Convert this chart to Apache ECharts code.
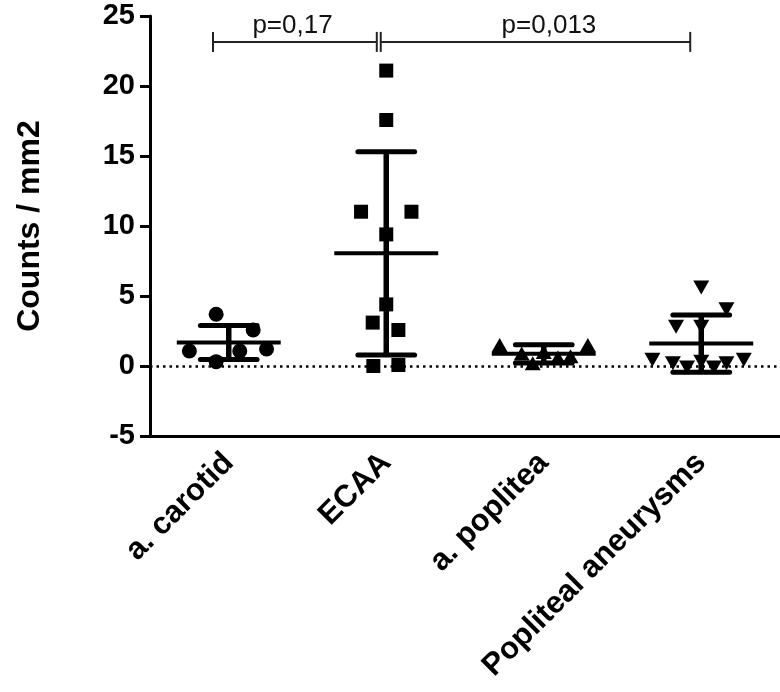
<!DOCTYPE html>
<html>
<head>
<meta charset="utf-8">
<script src="https://cdn.jsdelivr.net/npm/echarts@6/dist/echarts.min.js"></script>
<style>
  html, body { margin: 0; padding: 0; background: #fff; }
  #chart { width: 780px; height: 692px; }
</style>
</head>
<body>
<div id="chart"></div>
<script>
const categories = ['a. carotid', 'ECAA', 'a. poplitea', 'Popliteal aneurysms'];

// individual points: jitter is the horizontal offset from the group centre (category units)
const carotidJitter = [-0.08, 0.155, -0.25, -0.08, 0.07, 0.24];
const carotidY = [3.7, 2.57, 1.07, 0.31, 1.07, 1.21];
const ecaaJitter = [0, 0, -0.16, 0.16, 0, 0, -0.086, 0.077, -0.082, 0.077];
const ecaaY = [21.1, 17.57, 11.02, 11.02, 9.4, 4.4, 3.1, 2.57, 0, 0.07];
const popliteaJitter = [-0.28, 0.28, -0.14, -0.07, 0, 0.09, 0.17];
const popliteaY = [1.5, 1.5, 0.9, 0.2, 1.0, 0.6, 0.7];
const aneurysmJitter = [0, 0.16, -0.16, 0, -0.31, -0.18, -0.09, 0, 0.08, 0.16, 0.27];
const aneurysmY = [5.6, 4.05, 2.8, 2.8, 0.45, 0.2, -0.1, 0.3, -0.1, 0.2, 0.45];

// mean +/- SD per group
const means = [1.68, 8.05, 0.87, 1.6];
const sds = [1.22, 7.26, 0.65, 2.05];

// significance brackets (x in category units, y in data units)
const bracketFrom = [-0.1, 0.965];
const bracketTo = [0.94, 2.93];
const bracketY = [23.15, 23.15];
const pLabels = ['p=0,17', 'p=0,013'];
const pLabelX = [0.405, 2.033];
const pLabelY = [24.3, 24.3];

const yTicks = { min: -5, max: 25, interval: 5 };

const FONT = 'Liberation Sans, Arial, sans-serif';

function pts(groupIndex, jitter, ys) {
  return ys.map((y, k) => [groupIndex + jitter[k], y]);
}

const chart = echarts.init(document.getElementById('chart'), null, { renderer: 'canvas' });

const option = {
  animation: false,
  grid: { left: 150, right: 0, top: 16, bottom: 256, containLabel: false, outerBoundsMode: 'none' },
  xAxis: [
    {
      type: 'category',
      data: categories,
      boundaryGap: true,
      axisLine: { onZero: false, lineStyle: { color: '#000', width: 3 } },
      axisTick: { alignWithLabel: true, length: 10, lineStyle: { color: '#000', width: 3 } },
      axisLabel: {
        rotate: 45,
        margin: 22,
        color: '#000',
        fontSize: 31,
        fontWeight: 'bold',
        fontFamily: FONT
      },
      splitLine: { show: false }
    },
    {
      type: 'value',
      min: -0.5,
      max: 3.5,
      show: false
    }
  ],
  yAxis: {
    type: 'value',
    min: yTicks.min,
    max: yTicks.max,
    interval: yTicks.interval,
    name: 'Counts / mm2',
    nameLocation: 'middle',
    nameRotate: 90,
    nameGap: 104,
    nameTextStyle: { color: '#000', fontSize: 32, fontWeight: 'bold', fontFamily: FONT },
    axisLine: { show: true, onZero: false, lineStyle: { color: '#000', width: 3 } },
    axisTick: { show: true, length: 10, lineStyle: { color: '#000', width: 3 } },
    axisLabel: { color: '#000', fontSize: 29, fontWeight: 'bold', fontFamily: FONT, margin: 15 },
    splitLine: { show: false }
  },
  series: [
    {
      type: 'scatter',
      xAxisIndex: 1,
      symbol: 'circle',
      symbolSize: 15,
      itemStyle: { color: '#000', opacity: 1 },
      data: pts(0, carotidJitter, carotidY),
      markLine: {
        silent: true,
        symbol: 'none',
        label: { show: false },
        lineStyle: { color: '#000', width: 2.5, type: [2.5, 4] },
        data: [{ yAxis: 0 }]
      }
    },
    {
      type: 'scatter',
      xAxisIndex: 1,
      symbol: 'rect',
      symbolSize: 14,
      itemStyle: { color: '#000', opacity: 1 },
      data: pts(1, ecaaJitter, ecaaY)
    },
    {
      type: 'scatter',
      xAxisIndex: 1,
      symbol: 'triangle',
      symbolSize: [16, 14],
      itemStyle: { color: '#000', opacity: 1 },
      data: pts(2, popliteaJitter, popliteaY)
    },
    {
      type: 'scatter',
      xAxisIndex: 1,
      symbol: 'triangle',
      symbolRotate: 180,
      symbolSize: [16, 14],
      itemStyle: { color: '#000', opacity: 1 },
      data: pts(3, aneurysmJitter, aneurysmY)
    },
    {
      // mean line with SD whiskers
      type: 'custom',
      xAxisIndex: 1,
      z: 5,
      data: means.map((m, i) => [i, m, sds[i]]),
      renderItem: function (params, api) {
        const i = api.value(0), m = api.value(1), s = api.value(2);
        const top = api.coord([i, m + s]);
        const bot = api.coord([i, m - s]);
        const mid = api.coord([i, m]);
        const band = api.size([1, 0])[0];
        const capHalf = band * 0.18;
        const meanHalf = band * 0.33;
        const stroke = { stroke: '#000', fill: null };
        return {
          type: 'group',
          children: [
            { type: 'line', shape: { x1: top[0], y1: top[1], x2: bot[0], y2: bot[1] },
              style: Object.assign({ lineWidth: 5.5 }, stroke) },
            { type: 'line', shape: { x1: top[0] - capHalf, y1: top[1], x2: top[0] + capHalf, y2: top[1] },
              style: Object.assign({ lineWidth: 5, lineCap: 'round' }, stroke) },
            { type: 'line', shape: { x1: bot[0] - capHalf, y1: bot[1], x2: bot[0] + capHalf, y2: bot[1] },
              style: Object.assign({ lineWidth: 5, lineCap: 'round' }, stroke) },
            { type: 'line', shape: { x1: mid[0] - meanHalf, y1: mid[1], x2: mid[0] + meanHalf, y2: mid[1] },
              style: Object.assign({ lineWidth: 4 }, stroke) }
          ]
        };
      }
    },
    {
      // significance brackets with p values
      type: 'custom',
      xAxisIndex: 1,
      z: 5,
      data: bracketFrom.map((f, k) => [f, bracketTo[k], bracketY[k], pLabelX[k], pLabelY[k]]),
      renderItem: function (params, api) {
        const a = api.coord([api.value(0), api.value(2)]);
        const b = api.coord([api.value(1), api.value(2)]);
        const t = api.coord([api.value(3), api.value(4)]);
        const st = { stroke: '#222', lineWidth: 2, fill: null };
        return {
          type: 'group',
          children: [
            { type: 'line', shape: { x1: a[0], y1: a[1], x2: b[0], y2: b[1] }, style: st },
            { type: 'line', shape: { x1: a[0], y1: a[1] - 10, x2: a[0], y2: a[1] + 10 }, style: st },
            { type: 'line', shape: { x1: b[0], y1: b[1] - 10, x2: b[0], y2: b[1] + 10 }, style: st },
            { type: 'text', style: {
                text: pLabels[params.dataIndex], x: t[0], y: t[1],
                align: 'center', verticalAlign: 'middle',
                fill: '#111', font: '26px ' + FONT } }
          ]
        };
      }
    }
  ]
};

chart.setOption(option);
</script>
</body>
</html>
